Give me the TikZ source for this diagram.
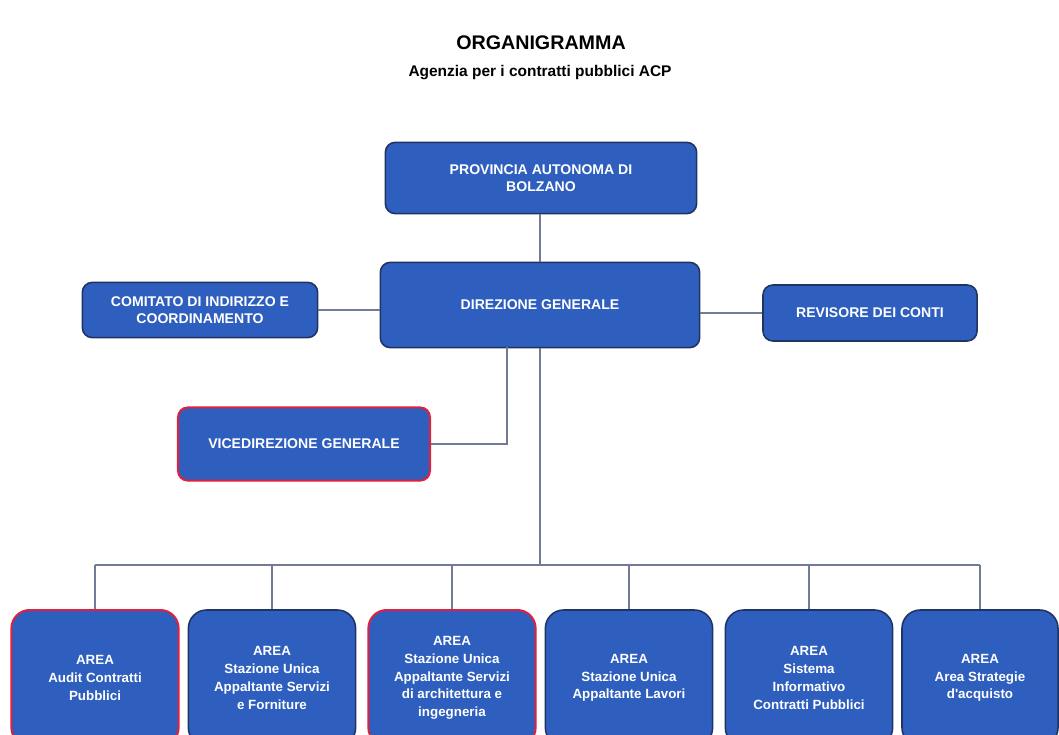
\documentclass[tikz,border=0pt]{standalone}
\usepackage{fontspec}
\setmainfont{Liberation Sans}
\definecolor{boxblue}{RGB}{46,94,190}
\definecolor{boxline}{RGB}{32,52,100}
\definecolor{redline}{RGB}{226,32,62}
\definecolor{wire}{RGB}{112,124,150}

\begin{document}
\begin{tikzpicture}[x=0.025cm,y=-0.025cm,
  box/.style={draw=boxline,line width=1.1pt,fill=boxblue,rounded corners=7pt,text=white,
    font=\bfseries\fontsize{10}{12.5}\selectfont,align=center,inner sep=0pt},
  areabox/.style={box,rounded corners=13pt,minimum width=4.18cm,minimum height=3.4cm,
    font=\bfseries\fontsize{9.5}{12.6}\selectfont},
  redbox/.style={draw=redline,line width=1.4pt},
  wire/.style={draw=wire,line width=0.8pt}]

\useasboundingbox[fill=white] (0,0) rectangle (1059,735);
\clip (0,0) rectangle (1059,735);

% titles
\node[font=\bfseries\fontsize{14}{16}\selectfont] (title) at (541,43) {ORGANIGRAMMA};
\node[font=\bfseries\fontsize{11}{13}\selectfont] (subtitle) at (540,73) {Agenzia per i contratti pubblici ACP};

% top level
\node[box,minimum width=7.78cm,minimum height=1.78cm] (prov) at (541,178) {PROVINCIA AUTONOMA DI\\BOLZANO};
\node[box,minimum width=7.98cm,minimum height=2.13cm] (direz) at (540,305) {DIREZIONE GENERALE};
\node[box,minimum width=5.88cm,minimum height=1.38cm] (comit) at (200,310) {COMITATO DI INDIRIZZO E\\COORDINAMENTO};
\node[box,minimum width=5.35cm,minimum height=1.40cm] (revis) at (870,313) {REVISORE DEI CONTI};
\node[box,redbox,minimum width=6.3cm,minimum height=1.83cm] (vice) at (304,444) {VICEDIREZIONE GENERALE};

% areas
\node[areabox,redbox] (a1) at (95,678) {AREA\\Audit Contratti\\Pubblici};
\node[areabox] (a2) at (272,678) {AREA\\Stazione Unica\\Appaltante Servizi\\e Forniture};
\node[areabox,redbox] (a3) at (452,678) {AREA\\Stazione Unica\\Appaltante Servizi\\di architettura e\\ingegneria};
\node[areabox] (a4) at (629,678) {AREA\\Stazione Unica\\Appaltante Lavori};
\node[areabox] (a5) at (809,678) {AREA\\Sistema\\Informativo\\Contratti Pubblici};
\node[areabox,minimum width=3.9cm] (a6) at (980,678) {AREA\\Area Strategie\\d\textquotesingle acquisto};

% connectors
\coordinate (bus) at (540,565);
\coordinate (vd) at (507,347);

\draw[wire] (prov.south -| direz) -- (direz);
\draw[wire] (comit.east) -- (comit.east -| direz.west);
\draw[wire] (revis.west) -- (revis.west -| direz.east);
\draw[wire] (vice.east) -| (vd);
\draw[wire] (direz.south) -- (bus);
\draw[wire] (a1.north |- bus) -- (a6.north |- bus);
\foreach \a in {a1,a2,a3,a4,a5,a6}
  \draw[wire] (\a.north) -- (\a.north |- bus);

\end{tikzpicture}
\end{document}
